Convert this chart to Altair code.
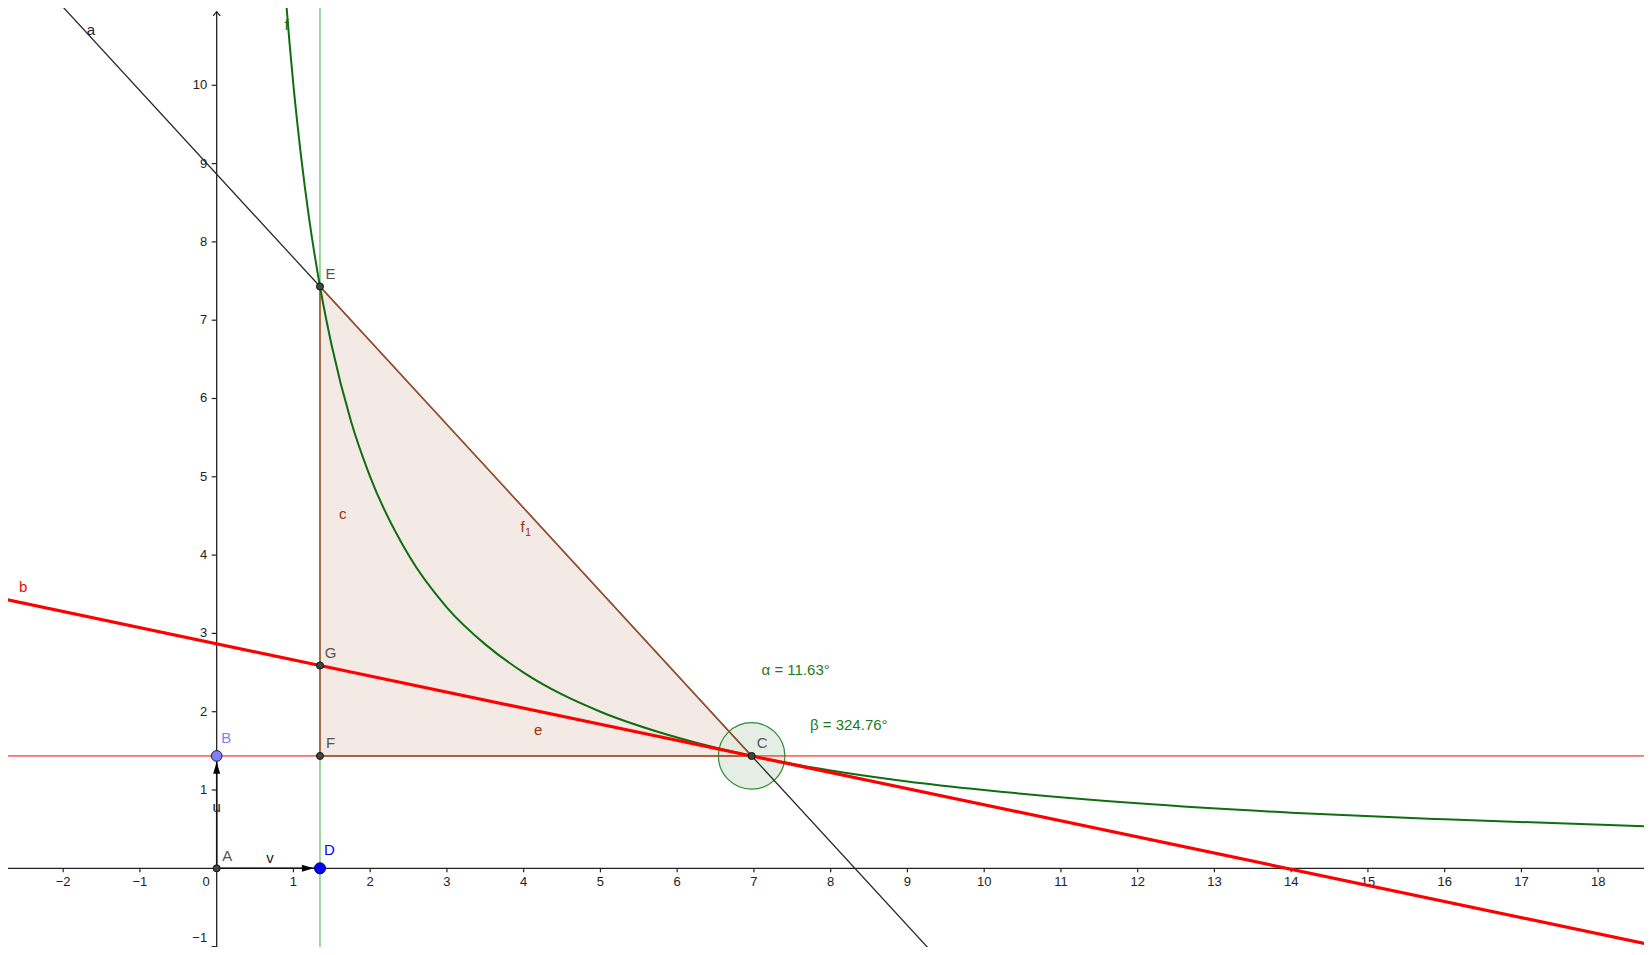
import altair as alt
import pandas as pd

# ---------------- data ----------------
# construction points
pt_names = ["A", "B", "C", "D", "E", "F", "G"]
pt_x = [0.0, 0.0, 6.97, 1.346, 1.346, 1.346, 1.346]
pt_y = [0.0, 1.435, 1.435, 0.0, 7.43, 1.435, 2.59]

# function f, values
f_x = [0.88, 0.95, 1.0, 1.1, 1.2, 1.346, 1.5, 1.75, 2.0, 2.5, 3.0, 3.5, 4.0,
       4.5, 5.0, 6.0, 6.97, 8.0, 9.0, 10.0, 12.0, 14.0, 16.0, 18.7]
f_y = [11.36, 10.53, 10.0, 9.09, 8.33, 7.43, 6.67, 5.71, 5.0, 4.0, 3.33, 2.86, 2.5,
       2.22, 2.0, 1.67, 1.435, 1.25, 1.11, 1.0, 0.83, 0.71, 0.625, 0.535]

# line a (through E and C)
a_x = [-2.8, 1.346, 6.97, 9.6]
a_y = [11.85, 7.43, 1.435, -1.37]

# line b (tangent at C)
b_x = [-2.8, 1.346, 6.97, 18.7]
b_y = [3.446, 2.59, 1.435, -0.979]

# triangle E-F-C
tri_names = ["E", "F", "C", "E"]

# axes
x_ticks = [-2, -1, 1, 2, 3, 4, 5, 6, 7, 8, 9, 10, 11, 12, 13, 14, 15, 16, 17, 18]
y_ticks = [1, 2, 3, 4, 5, 6, 7, 8, 9, 10]
y_tick_bottom = [-1]
y_axis_ends = [-1.2, 10.94]

# free labels
free_text = ["a", "f", "b", "c", "e", "f", "u", "v"]
free_x = [-1.64, 0.912, -2.521, 1.641, 4.19, 3.985, 0.0, 0.694]
free_y = [10.71, 10.77, 3.595, 4.523, 1.765, 4.36, 0.787, 0.128]
free_col = ["#222222", "#0f6e0f", "#ff0000", "#993300", "#993300", "#993300", "#222222", "#222222"]

angle_text = ["α = 11.63°", "β = 324.76°"]
angle_x = [7.10, 7.73]
angle_y = [2.533, 1.83]

# ---------------- helpers ----------------
XD = [-2.719, 18.597]
YD = [-1.005, 10.987]
FONT = "Liberation Sans"


def X(field="x"):
    return alt.X(f"{field}:Q", scale=alt.Scale(domain=XD, nice=False, zero=False), axis=None)


def Y(field="y"):
    return alt.Y(f"{field}:Q", scale=alt.Scale(domain=YD, nice=False, zero=False), axis=None)


pts = pd.DataFrame({"name": pt_names, "x": pt_x, "y": pt_y})
P = {n: (x, y) for n, x, y in zip(pt_names, pt_x, pt_y)}

# triangle fill (area between hypotenuse and base)
tri_fill = pd.DataFrame({"x": [P["E"][0], P["C"][0]], "y": [P["E"][1], P["C"][1]],
                         "y2": [P["F"][1], P["F"][1]]})
fill_layer = alt.Chart(tri_fill).mark_area(color="#f4eae5", opacity=1, clip=True).encode(
    x=X(), y=Y(), y2="y2:Q")

tri_edges = pd.DataFrame({"i": list(range(len(tri_names))),
                          "x": [P[n][0] for n in tri_names],
                          "y": [P[n][1] for n in tri_names]})
edge_layer = alt.Chart(tri_edges).mark_line(color="#a0502a", strokeWidth=1.5, clip=True).encode(
    x=X(), y=Y(), order="i:O")

c_df = pts[pts.name == "C"]
circle_layer = alt.Chart(c_df).mark_point(shape="circle", size=4418, filled=True,
                                          fill="#dfeadf", fillOpacity=0.8,
                                          stroke="#2f8a2f", strokeWidth=1.2, opacity=1).encode(
    x=X(), y=Y())

b_df = pts[pts.name == "B"]
hline_layer = alt.Chart(b_df).mark_rule(color="#ff0000", strokeWidth=1).encode(y=Y())
d_df = pts[pts.name == "D"]
vline_layer = alt.Chart(d_df).mark_rule(color="#45a845", strokeWidth=1).encode(x=X())

# axes
xaxis_layer = alt.Chart(pd.DataFrame({"y": [0.0]})).mark_rule(color="#222222", strokeWidth=1.3).encode(y=Y())
yaxis_layer = alt.Chart(pd.DataFrame({"x": [0.0], "y": [y_axis_ends[0]], "y2": [y_axis_ends[1]]})).mark_rule(
    color="#222222", strokeWidth=1.3).encode(x=X(), y=Y(), y2="y2:Q")
arrow_layer = alt.Chart(pd.DataFrame({"x": [0.0], "y": [y_axis_ends[1]]})).mark_point(
    shape="M-1,1.2L0,0L1,1.2", size=49, filled=False, stroke="#222222", strokeWidth=1.3, opacity=1).encode(
    x=X(), y=Y())


def fmt(v):
    return str(v).replace("-", "\u2212")


xt = pd.DataFrame({"x": x_ticks, "y": [0.0] * len(x_ticks), "label": [fmt(v) for v in x_ticks]})
yt = pd.DataFrame({"x": [0.0] * len(y_ticks), "y": y_ticks, "label": [fmt(v) for v in y_ticks]})
yb = pd.DataFrame({"x": [0.0] * len(y_tick_bottom), "y": y_tick_bottom,
                   "label": [fmt(v) for v in y_tick_bottom]})
xtick_layer = alt.Chart(xt).mark_tick(orient="vertical", size=4, thickness=1.2, color="#222222",
                                      yOffset=2, opacity=1).encode(x=X(), y=Y())
ytick_layer = alt.Chart(pd.concat([yt, yb])).mark_tick(orient="horizontal", size=5, thickness=1.2,
                                                       color="#222222", xOffset=-2.5, opacity=1).encode(
    x=X(), y=Y())
xlab_layer = alt.Chart(xt).mark_text(font=FONT, fontSize=13, color="#222222", align="center",
                                     baseline="alphabetic", dy=17.5).encode(x=X(), y=Y(), text="label:N")
ylab_layer = alt.Chart(yt).mark_text(font=FONT, fontSize=13, color="#222222", align="right",
                                     baseline="middle", dx=-9.5).encode(x=X(), y=Y(), text="label:N")
yblab_layer = alt.Chart(yb).mark_text(font=FONT, fontSize=13, color="#222222", align="right",
                                      baseline="middle", dx=-9.5, dy=-9).encode(x=X(), y=Y(), text="label:N")
zero_layer = alt.Chart(pd.DataFrame({"x": [0.0], "y": [0.0], "label": ["0"]})).mark_text(
    font=FONT, fontSize=13, color="#222222", align="center", baseline="alphabetic", dx=-10.5, dy=17.5).encode(
    x=X(), y=Y(), text="label:N")

# lines
a_layer = alt.Chart(pd.DataFrame({"x": a_x, "y": a_y, "i": range(len(a_x))})).mark_line(
    color="#2a2a2a", strokeWidth=1.3, clip=True).encode(x=X(), y=Y(), order="i:O")
f_layer = alt.Chart(pd.DataFrame({"x": f_x, "y": f_y})).mark_line(
    color="#0f6e0f", strokeWidth=2, interpolate="monotone", clip=True).encode(x=X(), y=Y())
b_layer = alt.Chart(pd.DataFrame({"x": b_x, "y": b_y, "i": range(len(b_x))})).mark_line(
    color="#ff0000", strokeWidth=3.2, clip=True).encode(x=X(), y=Y(), order="i:O")

# vectors u (A->B) and v (A->D)
vec = pd.DataFrame({"vec": ["u", "u", "v", "v"],
                    "x": [P["A"][0], P["B"][0], P["A"][0], P["D"][0]],
                    "y": [P["A"][1], P["B"][1], P["A"][1], P["D"][1]]})
vec_layer = alt.Chart(vec).mark_line(color="#111111", strokeWidth=1.5).encode(x=X(), y=Y(), detail="vec:N")
vhead = alt.Chart(d_df).mark_point(shape="M0,0L-2,-0.6L-2,0.6Z", size=137, filled=True, fill="#000000",
                                   opacity=1, xOffset=-6.4).encode(x=X(), y=Y())
uhead = alt.Chart(b_df).mark_point(shape="M0,0L-0.6,2L0.6,2Z", size=137, filled=True, fill="#000000",
                                   opacity=1, yOffset=6).encode(x=X(), y=Y())

# points
dark_df = pts[pts.name.isin(["A", "C", "E", "F", "G"])]
dark_layer = alt.Chart(dark_df).mark_point(shape="circle", size=50, filled=True, fill="#444444",
                                           stroke="#111111", strokeWidth=1, opacity=1).encode(x=X(), y=Y())
b_pt = alt.Chart(b_df).mark_point(shape="circle", size=115, filled=True, fill="#7f7fff",
                                  stroke="#222222", strokeWidth=1, opacity=1).encode(x=X(), y=Y())
d_pt = alt.Chart(d_df).mark_point(shape="circle", size=125, filled=True, fill="#0000ff",
                                  stroke="#101060", strokeWidth=1, opacity=1).encode(x=X(), y=Y())

# point labels
dark_lab = alt.Chart(dark_df).mark_text(font=FONT, fontSize=15, color="#555555", align="center",
                                        baseline="middle", dx=10.5, dy=-12.5).encode(x=X(), y=Y(), text="name:N")
bd_df = pts[pts.name.isin(["B", "D"])].assign(col=["#7f7fff", "#0000ff"])
bd_lab = alt.Chart(bd_df).mark_text(font=FONT, fontSize=15, align="center", baseline="middle",
                                    dx=9.5, dy=-18).encode(x=X(), y=Y(), text="name:N",
                                                           color=alt.Color("col:N", scale=None))

free_df = pd.DataFrame({"t": free_text, "x": free_x, "y": free_y, "col": free_col})
free_lab = alt.Chart(free_df).mark_text(font=FONT, fontSize=15, align="center", baseline="middle").encode(
    x=X(), y=Y(), text="t:N", color=alt.Color("col:N", scale=None))
sub_lab = alt.Chart(free_df.iloc[[5]].assign(t="1")).mark_text(
    font=FONT, fontSize=11, align="center", baseline="middle", dx=5.5, dy=6.5).encode(
    x=X(), y=Y(), text="t:N", color=alt.Color("col:N", scale=None))

ang_df = pd.DataFrame({"t": angle_text, "x": angle_x, "y": angle_y})
ang_lab = alt.Chart(ang_df).mark_text(font=FONT, fontSize=15, color="#1c7a1c", align="left",
                                      baseline="middle").encode(x=X(), y=Y(), text="t:N")

chart = alt.layer(
    fill_layer, circle_layer, hline_layer, vline_layer,
    xaxis_layer, yaxis_layer, arrow_layer, xtick_layer, ytick_layer,
    xlab_layer, ylab_layer, yblab_layer, zero_layer,
    a_layer, edge_layer, f_layer, b_layer,
    vec_layer, vhead, uhead,
    dark_layer, b_pt, d_pt,
    dark_lab, bd_lab, free_lab, sub_lab, ang_lab,
).properties(width=1636, height=939, padding=0, autosize="none", background="white").configure_view(
    strokeWidth=0, fill="white")

chart.save("out.html", embed_options={"renderer": "svg", "actions": False})
